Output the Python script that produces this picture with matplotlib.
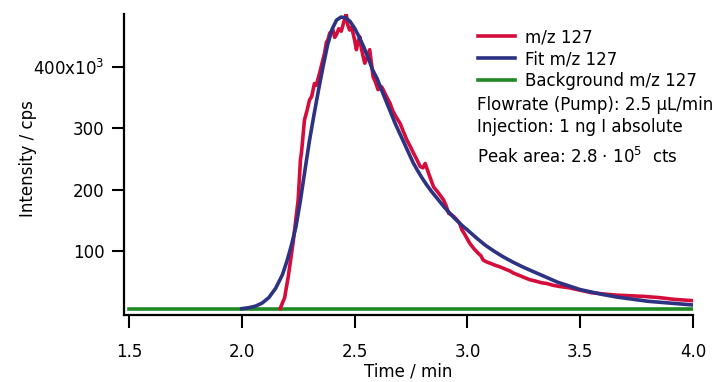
import matplotlib.pyplot as plt
from matplotlib.ticker import FixedLocator, FixedFormatter

# time in min, intensity in 10^3 cps
data_t = [2.17, 2.19, 2.206, 2.227, 2.25, 2.26, 2.265, 2.278, 2.29, 2.30, 2.31, 2.322, 2.33,
          2.345, 2.355, 2.367, 2.375, 2.382, 2.39, 2.404, 2.412, 2.419, 2.43, 2.441, 2.45,
          2.458, 2.463, 2.47, 2.478, 2.487, 2.493, 2.50, 2.508, 2.515, 2.523, 2.53, 2.545,
          2.555, 2.567, 2.575, 2.582, 2.593, 2.604, 2.619, 2.627, 2.641, 2.657, 2.67, 2.685,
          2.702, 2.715, 2.732, 2.745, 2.761, 2.775, 2.791, 2.803, 2.813, 2.83, 2.85, 2.87,
          2.894, 2.905, 2.917, 2.928, 2.939, 2.952, 2.965, 2.976, 2.988, 3.0, 3.011, 3.03,
          3.048, 3.06, 3.07, 3.085, 3.10, 3.12, 3.144, 3.17, 3.19, 3.203, 3.23, 3.25, 3.277,
          3.30, 3.33, 3.351, 3.38, 3.41, 3.45, 3.50, 3.55, 3.60, 3.66, 3.72, 3.78, 3.85,
          3.92, 4.00]
data_y = [7, 25, 59, 113, 184, 249, 262, 314, 330, 346, 352, 373, 370,
          390, 405, 422, 440, 444, 455, 460, 448, 452, 462, 458, 470,
          480, 486, 468, 460, 465, 455, 444, 428, 440, 449, 430, 406,
          415, 428, 405, 384, 375, 363, 368, 363, 352, 341, 328, 318,
          308, 296, 281, 272, 260, 250, 238, 236, 243, 225, 205, 196,
          184, 175, 162, 160, 157, 152, 146, 135, 128, 120, 113, 104,
          97, 93, 86, 83, 81, 78, 75, 71, 68, 65, 61, 58, 54,
          52, 49, 48, 45, 43, 41, 37, 33, 31, 29, 28, 27, 25,
          22, 20]

fit_t = [2.00, 2.03, 2.06, 2.09, 2.12, 2.15, 2.18, 2.20, 2.22, 2.24, 2.26, 2.28, 2.30,
         2.32, 2.34, 2.36, 2.38, 2.40, 2.42, 2.44, 2.46, 2.48, 2.50, 2.52, 2.54, 2.56,
         2.58, 2.60, 2.62, 2.64, 2.66, 2.68, 2.70, 2.72, 2.74, 2.76, 2.78, 2.80, 2.82,
         2.84, 2.86, 2.88, 2.90, 2.92, 2.94, 2.96, 2.98, 3.00, 3.04, 3.08, 3.12, 3.16,
         3.20, 3.25, 3.30, 3.35, 3.40, 3.45, 3.50, 3.55, 3.60, 3.66, 3.72, 3.80, 3.90, 4.00]
fit_y = [7, 8.5, 11, 16, 25, 40, 62, 84, 110, 140, 183, 232, 280,
         322, 362, 400, 435, 461, 476, 481, 480, 474, 463, 449, 433, 415,
         395, 381, 362, 344, 326, 308, 292, 276, 260, 244, 231, 219, 208,
         198, 189, 180, 171, 163, 155, 148, 141, 135, 122, 110, 100, 91,
         83, 74, 66, 58, 50, 44, 38, 34, 30, 26, 23, 19, 16, 13]

bg_t = [1.5, 4.0]
bg_y = [6.5, 6.5]

yticks = [100, 200, 300, 400]
ytick_labels = ["100", "200", "300", "400x10$^3$"]
xticks = [1.5, 2.0, 2.5, 3.0, 3.5, 4.0]

plt.rcParams['font.family'] = ['DejaVu Sans']
plt.rcParams['mathtext.fontset'] = 'dejavusans'
fs = 12

W, H = 722, 382
fig = plt.figure(figsize=(W / 100, H / 100), dpi=100)
ax = fig.add_axes([124 / W, 1 - 315 / H, (693 - 124) / W, (315 - 14) / H])

ax.plot(bg_t, bg_y, color='#1f8a24', lw=2.6, label='Background m/z 127', zorder=2)
ax.plot(data_t, data_y, color='#d40d3c', lw=2.6, label='m/z 127', zorder=3)
ax.plot(fit_t, fit_y, color='#2d3382', lw=2.6, label='Fit m/z 127', zorder=4)

ax.set_xlim(1.478, 4.0)
ax.set_ylim(-3.3, 486)
ax.set_xticks(xticks)
ax.set_xticklabels([f"{v:.1f}" for v in xticks])
ax.yaxis.set_major_locator(FixedLocator(yticks))
ax.yaxis.set_major_formatter(FixedFormatter(ytick_labels))

for s in ['top', 'right']:
    ax.spines[s].set_visible(False)
for s in ['left', 'bottom']:
    ax.spines[s].set_linewidth(1.6)
ax.tick_params(direction='out', length=9, width=1.5, labelsize=fs, colors='black')
ax.tick_params(axis='x', pad=11)
ax.tick_params(axis='y', pad=5)

ax.set_xlabel("Time / min", fontsize=fs, labelpad=1)
ax.set_ylabel("Intensity / cps", fontsize=fs)
ax.yaxis.set_label_coords(-0.153, 0.52)

handles, labels = ax.get_legend_handles_labels()
order = [1, 2, 0]
ax.legend([handles[i] for i in order], [labels[i] for i in order],
          loc='upper left', bbox_to_anchor=(478 / W, 1 - 28 / H),
          bbox_transform=fig.transFigure, frameon=False, fontsize=fs,
          borderpad=0, borderaxespad=0, handlelength=2.2, handletextpad=0.6,
          labelspacing=0.24)

fig.text(477 / W, 1 - 105 / H, "Flowrate (Pump): 2.5 µL/min", fontsize=fs, va='center')
fig.text(477 / W, 1 - 127 / H, "Injection: 1 ng I absolute", fontsize=fs, va='center')
fig.text(477 / W, 1 - 157 / H, "Peak area: 2.8 · 10$^5$  cts", fontsize=fs, va='center')

fig.savefig("out.png", dpi=100)
